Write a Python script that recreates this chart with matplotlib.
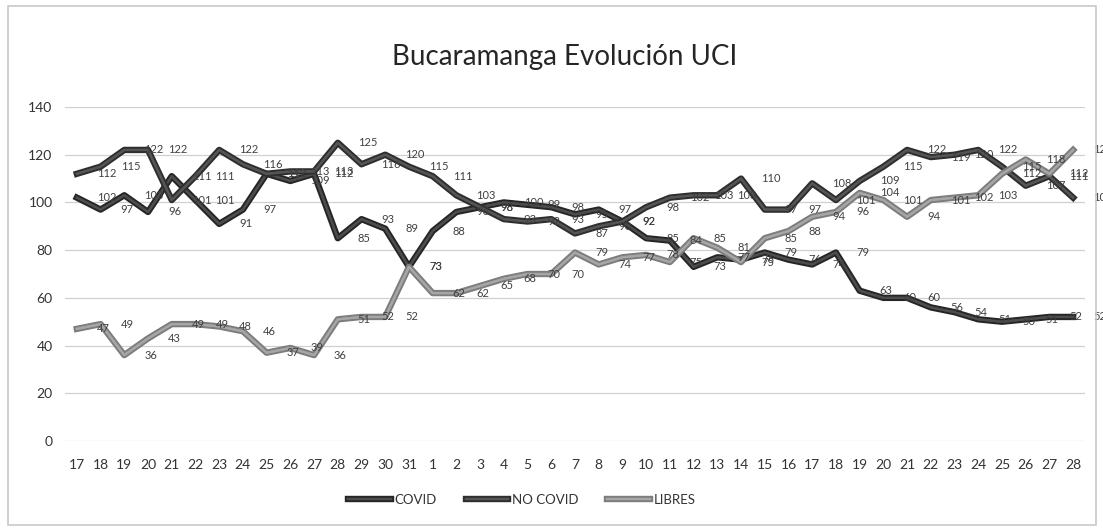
import matplotlib
matplotlib.use("Agg")
import matplotlib.pyplot as plt
from matplotlib import patheffects
from matplotlib.lines import Line2D
from matplotlib.patches import Rectangle

# ---- data ----------------------------------------------------------------
days = ["17", "18", "19", "20", "21", "22", "23", "24", "25", "26", "27", "28",
        "29", "30", "31", "1", "2", "3", "4", "5", "6", "7", "8", "9", "10",
        "11", "12", "13", "14", "15", "16", "17", "18", "19", "20", "21", "22",
        "23", "24", "25", "26", "27", "28"]

covid = [102, 97, 103, 96, 111, 101, 91, 97, 112, 109, 112, 85, 93, 89, 73,
         88, 96, 98, 100, 99, 98, 95, 97, 92, 85, 84, 73, 77, 76, 79, 76, 74,
         79, 63, 60, 60, 56, 54, 51, 50, 51, 52, 52]

no_covid = [112, 115, 122, 122, 101, 111, 122, 116, 112, 113, 113, 125, 116,
            120, 115, 111, 103, 98, 93, 92, 93, 87, 90, 92, 98, 102, 103, 103,
            110, 97, 97, 108, 101, 109, 115, 122, 119, 120, 122, 115, 107, 111,
            102]

libres = [47, 49, 36, 43, 49, 49, 48, 46, 37, 39, 36, 51, 52, 52, 73, 62, 62,
          65, 68, 70, 70, 79, 74, 77, 78, 75, 85, 81, 75, 85, 88, 94, 96, 104,
          101, 94, 101, 102, 103, 112, 118, 112, 122]

series_names = ["COVID", "NO COVID", "LIBRES"]
yticks = [0, 20, 40, 60, 80, 100, 120, 140]

# ---- style ----------------------------------------------------------------
plt.rcParams["font.family"] = ["Lato", "DejaVu Sans"]
outer = ["#262626", "#2e2e2e", "#7d7d7d"]
inner = ["#4d4d4d", "#555555", "#a6a6a6"]

fig = plt.figure(figsize=(11.03, 5.31), dpi=100)
fig.patch.set_facecolor("white")
ax = fig.add_axes([65 / 1103, 90 / 531, 1020 / 1103, 334 / 531])

# faint frame of the scanned chart box
fig.patches.append(Rectangle((8 / 1103, 6 / 531), 1088 / 1103, 519 / 531,
                             transform=fig.transFigure, fill=False,
                             edgecolor="#c8c8c8", linewidth=1.2))

x = list(range(len(days)))
for vals, oc, ic in zip([covid, no_covid, libres], outer, inner):
    ax.plot(x, vals, color=ic, linewidth=1.6, zorder=3,
            solid_joinstyle="round",
            path_effects=[patheffects.withStroke(linewidth=4.6, foreground=oc),
                          patheffects.Normal()])

# data labels, to the right of each point as in the source
for vals in [covid, no_covid, libres]:
    for xi, v in zip(x, vals):
        ax.annotate(str(v), (xi, v), xytext=(20, 0),
                    textcoords="offset pixels", ha="left", va="center",
                    fontsize=8, color="#404040", zorder=4)

ax.set_xlim(-0.5, len(days) - 0.5)
ax.set_ylim(0, 140)
ax.set_yticks(yticks)
ax.set_xticks(x)
ax.set_xticklabels(days)
ax.tick_params(axis="x", length=0, pad=13, labelsize=10, colors="#333333")
ax.tick_params(axis="y", length=0, pad=9, labelsize=10, colors="#333333")
ax.yaxis.grid(True, color="#d0d0d0", linewidth=0.9, zorder=0)
ax.set_axisbelow(True)
for s in ax.spines.values():
    s.set_visible(False)

fig.text(565 / 1103, 1 - 57 / 531, "Bucaramanga Evolución UCI",
         ha="center", va="center", fontsize=20, color="#262626")

handles = [Line2D([0], [0], color=ic, linewidth=1.6,
                  path_effects=[patheffects.withStroke(linewidth=4.6, foreground=oc),
                                patheffects.Normal()])
           for oc, ic in zip(outer, inner)]
fig.legend(handles, series_names, loc="center", bbox_to_anchor=(522 / 1103, 1 - 500 / 531),
           ncol=3, frameon=False, fontsize=9.5, handlelength=3.2,
           columnspacing=2.2, handletextpad=0.3, labelcolor="#333333")

fig.savefig("out.png", dpi=100, facecolor="white")
